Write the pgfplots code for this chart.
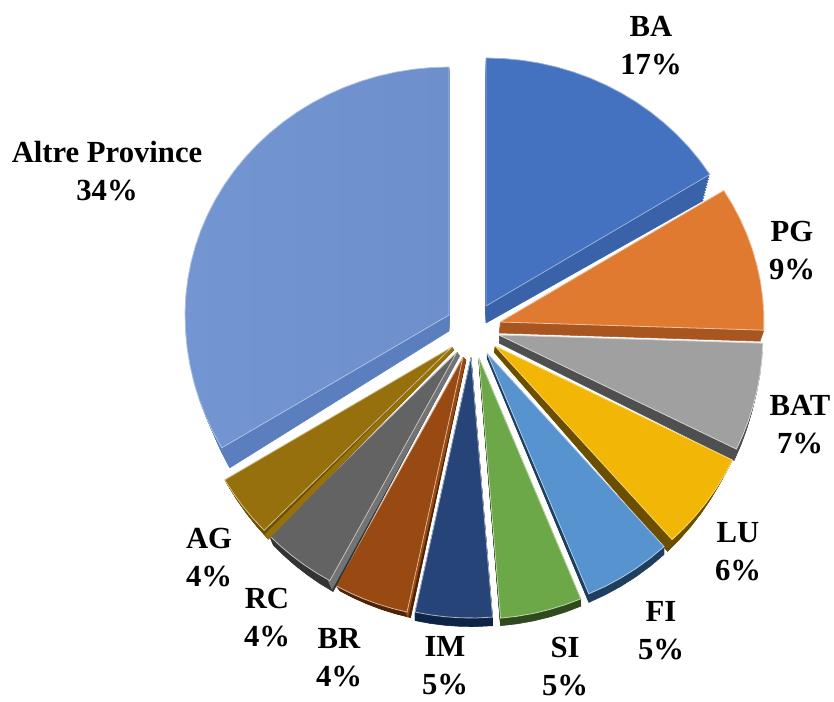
\documentclass[border=0pt]{standalone}
\usepackage{pgfplots}
\pgfplotsset{compat=1.18}
\usepackage{fontspec}
\setmainfont{Liberation Serif}
\definecolor{cBA}{HTML}{4472C0}\definecolor{sBA}{HTML}{3A62A8}
\definecolor{cPG}{HTML}{E07A30}\definecolor{sPG}{HTML}{A9551F}
\definecolor{cBAT}{HTML}{A0A0A0}\definecolor{sBAT}{HTML}{4F4F4F}
\definecolor{cLU}{HTML}{F2B606}\definecolor{sLU}{HTML}{6B4E00}
\definecolor{cFI}{HTML}{5793CE}\definecolor{sFI}{HTML}{1F3F5E}
\definecolor{cSI}{HTML}{6CA848}\definecolor{sSI}{HTML}{2F4A1D}
\definecolor{cIM}{HTML}{264478}\definecolor{sIM}{HTML}{0F2344}
\definecolor{cBR}{HTML}{984A12}\definecolor{sBR}{HTML}{4F2405}
\definecolor{cRC}{HTML}{636363}\definecolor{sRC}{HTML}{333333}
\definecolor{cAG}{HTML}{96700C}\definecolor{sAG}{HTML}{6B5000}
\definecolor{cAL}{HTML}{6D8FCC}\definecolor{cALb}{HTML}{7396D2}\definecolor{sAL}{HTML}{5A7EBE}
% one wedge polygon: apex x, apex y, scale x, scale y, angle from, angle to, options
\newcommand\wedgeplot[7]{%
  \xdef\coords{(#1,#2)}%
  \pgfmathtruncatemacro\nsteps{ceil((#6-#5)/4)}%
  \foreach \k in {0,...,\nsteps}{%
    \pgfmathsetmacro\th{#5+(#6-#5)*\k/\nsteps}%
    \pgfmathsetmacro\px{#1+264*#3*sin(\th)}%
    \pgfmathsetmacro\py{#2-(cos(\th)>=0?248:261)*#4*cos(\th)}%
    \xdef\coords{\coords (\px,\py)}%
  }%
  \xdef\coords{\coords (#1,#2)}%
  \edef\tmp{\noexpand\addplot[#7] coordinates {\coords};}%
  \tmp
}
\gdef\cum{0}
\let\extra\relax
% share, apex x, apex y, side shift x, side shift y, side scale x, side scale y, side colour, top options
\newcommand\slice[9]{%
  \pgfmathsetmacro\thb{\cum+#1*3.6}%
  \foreach \t in {1,0.9,0.8,0.7,0.6,0.5,0.4,0.3,0.2,0.1}{%
    \pgfmathsetmacro\qx{#2+#4*\t}%
    \pgfmathsetmacro\qy{#3+#5*\t}%
    \pgfmathsetmacro\qsx{1+(#6-1)*\t}%
    \pgfmathsetmacro\qsy{1+(#7-1)*\t}%
    \wedgeplot{\qx}{\qy}{\qsx}{\qsy}{\cum}{\thb}{fill=#8,draw=#8,line width=0.4pt,no markers}%
  }%
  \extra
  \global\let\extra\relax
  \wedgeplot{#2}{#3}{1}{1}{\cum}{\thb}{#9,line width=0.6pt,no markers}%
  \xdef\cum{\thb}%
}
\begin{document}
\begin{tikzpicture}
\begin{axis}[
  name=pie,
  width=625.5pt,height=526.5pt,scale only axis,hide axis,
  xmin=0,xmax=834,ymin=0,ymax=702,y dir=reverse,clip=false]
\slice{16.1}{486}{306}{0}{17}{0.97}{0.93}{sBA}{fill=cBA,draw=cBA!55!white}
\slice{9.4}{500}{322}{-1}{11}{0.99}{1.0}{sPG}{fill=cPG,draw=cPG!45!white}
\slice{6.7}{499}{335}{0}{8}{0.99}{1.03}{sBAT}{fill=cBAT,draw=cBAT!45!white}
\slice{6.1}{495}{346}{-1}{6}{0.98}{1.03}{sLU}{fill=cLU,draw=cLU!55!white}
\slice{5.4}{487}{353}{0}{5}{1.0}{1.015}{sFI}{fill=cFI,draw=cFI!45!white}
\slice{5.0}{479}{358}{0}{5}{1.0}{1.01}{sSI}{fill=cSI,draw=cSI!45!white}
\slice{4.7}{471}{357}{0}{6}{1.0}{1.01}{sIM}{fill=cIM,draw=cIM!40!white}
\def\extra{\addplot[fill=cBR,draw=none,no markers] coordinates {(463,357)(466,360)(408,618)(404,610)};}
\slice{4.6}{463}{357}{3}{3}{0.99}{1.01}{sBR}{fill=cBR,draw=cBR!40!white}
\def\extra{\addplot[fill=cRC!90!white,draw=none,no markers] coordinates {(457,352)(460,356)(332,590)(328,581)};}
\slice{4.6}{457}{352}{2}{4}{0.99}{1.03}{sRC}{fill=cRC,draw=cRC!40!white}
\def\extra{\addplot[fill=cAG,draw=none,no markers] coordinates {(452,347)(454,350)(268,540)(265,534)};}
\slice{3.9}{452}{347}{2}{3}{0.99}{1.03}{sAG}{fill=cAG,draw=cAG!45!white}
\slice{33.5}{449}{315}{0}{16}{0.965}{1.03}{sAL}{left color=cALb,right color=cAL,draw=cAL!55!white}
\def\lab#1#2#3{\node[font=\fontsize{23}{28.5}\selectfont\bfseries,align=center,text=black,inner sep=0pt] at (axis cs:#1,#2) {#3};}
\lab{651}{46}{BA\\17\%}
\lab{792}{251}{PG\\9\%}
\lab{800}{425}{BAT\\7\%}
\lab{738}{552}{LU\\6\%}
\lab{661}{631}{FI\\5\%}
\lab{565}{667}{SI\\5\%}
\lab{445}{666}{IM\\5\%}
\lab{339}{658}{BR\\4\%}
\lab{267}{618}{RC\\4\%}
\lab{209}{558}{AG\\4\%}
\lab{107}{171}{Altre Province\\34\%}
\end{axis}
\pgfresetboundingbox
\path[use as bounding box] (pie.south west) rectangle (pie.north east);
\end{tikzpicture}
\end{document}
